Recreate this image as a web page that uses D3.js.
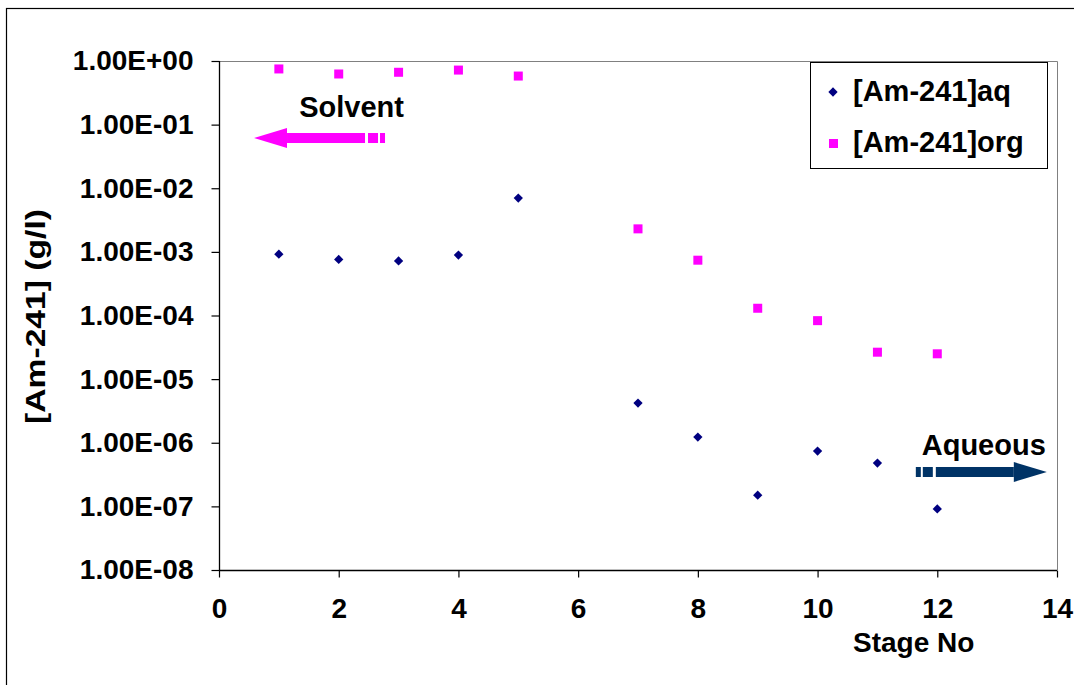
<!DOCTYPE html>
<html>
<head>
<meta charset="utf-8">
<script src="https://cdn.jsdelivr.net/npm/d3@7"></script>
<style>
  body { margin: 0; background: #fff; }
  text { font-family: "Liberation Sans", Arial, sans-serif; font-weight: bold; }
</style>
</head>
<body>
<div class="am-figure"></div>
<script>
// stage numbers and concentrations
let stages = [1, 2, 3, 4, 5, 7, 8, 9, 10, 11, 12];
let aqValues = [9.2e-4, 7.6e-4, 7.2e-4, 8.9e-4, 7.0e-3, 4.2e-6, 1.23e-6, 1.5e-7, 7.4e-7, 4.8e-7, 9.1e-8];
let orgValues = [0.75, 0.625, 0.665, 0.72, 0.58, 2.3e-3, 7.4e-4, 1.3e-4, 8.3e-5, 2.65e-5, 2.5e-5];

let xTicks = [0, 2, 4, 6, 8, 10, 12, 14];
let yTicks = [1, 1e-1, 1e-2, 1e-3, 1e-4, 1e-5, 1e-6, 1e-7, 1e-8];

let seriesNames = ["[Am-241]aq", "[Am-241]org"];
let seriesColors = ["#000080", "#FF00FF"];

let W = 1074, H = 685;
let plot = {left: 219, right: 1057, top: 61, bottom: 570};

let svg = d3.select(".am-figure")
    .append("svg")
    .attr("width", W)
    .attr("height", H);

// outer frame (runs off the right/bottom edge)
svg.append("rect")
    .attr("x", 6.5).attr("y", 8.5)
    .attr("width", W + 20).attr("height", H + 20)
    .attr("fill", "none").attr("stroke", "#000").attr("stroke-width", 1.2);

let x = d3.scaleLinear().domain([0, 14]).range([plot.left, plot.right]);
let y = d3.scaleLog().domain([1e-8, 1]).range([plot.bottom, plot.top]);

// gray border top/right
svg.append("path")
    .attr("d", "M" + plot.left + "," + (plot.top + 0.5) + "H" + (plot.right + 0.5) + "V" + plot.bottom)
    .attr("fill", "none").attr("stroke", "#808080").attr("stroke-width", 1);

function fmtSci(v) {
    let e = Math.round(Math.log10(v));
    let s = e < 0 ? "-" : "+";
    let a = Math.abs(e);
    return "1.00E" + s + (a < 10 ? "0" + a : a);
}

let yAxis = svg.append("g")
    .attr("transform", "translate(" + (plot.left + 0.5) + ",0)")
    .call(d3.axisLeft(y).tickValues(yTicks).tickFormat(fmtSci).tickSize(8).tickPadding(18));

let xAxis = svg.append("g")
    .attr("transform", "translate(0," + (plot.bottom + 0.5) + ")")
    .call(d3.axisBottom(x).tickValues(xTicks).tickFormat(d3.format("d")).tickSize(7).tickPadding(21));

[xAxis, yAxis].forEach(function(g) {
    g.select(".domain").attr("stroke", "#000").attr("stroke-width", 1.3);
    g.selectAll(".tick line").attr("stroke", "#000").attr("stroke-width", 1.2);
    g.selectAll(".tick text")
        .attr("fill", "#000")
        .style("font-size", "28px")
        .style("font-family", "'Liberation Sans', Arial, sans-serif")
        .style("font-weight", "bold");
});
yAxis.select(".domain").attr("d", "M0," + plot.bottom + "V" + plot.top);
xAxis.select(".domain").attr("d", "M" + plot.left + ",0H" + plot.right);

// axis titles
svg.append("text")
    .attr("transform", "translate(45," + ((plot.top + plot.bottom) / 2 + 1) + ") rotate(-90)")
    .attr("text-anchor", "middle")
    .style("font-size", "28px")
    .attr("textLength", 215)
    .attr("lengthAdjust", "spacingAndGlyphs")
    .text("[Am-241] (g/l)");

svg.append("text")
    .attr("x", 853).attr("y", 652)
    .style("font-size", "28px")
    .text("Stage No");

// data marks
let aqData = stages.map((s, i) => ({stage: s, value: aqValues[i]}));
let orgData = stages.map((s, i) => ({stage: s, value: orgValues[i]}));

let diamond = d3.symbol().type(d3.symbolDiamond2).size(55);

svg.append("g").selectAll("path")
    .data(aqData)
    .enter()
    .append("path")
    .attr("d", diamond)
    .attr("transform", d => "translate(" + x(d.stage) + "," + y(d.value) + ")")
    .attr("fill", seriesColors[0]);

svg.append("g").selectAll("rect")
    .data(orgData)
    .enter()
    .append("rect")
    .attr("x", d => x(d.stage) - 4.5)
    .attr("y", d => y(d.value) - 4.5)
    .attr("width", 9)
    .attr("height", 9)
    .attr("fill", seriesColors[1]);

// arrows with labels, anchored in data space
let arrows = [
    {label: "Solvent", tipX: 0.585, yVal: 0.0616, dir: -1, color: "#FF00FF", textX: 1.34, textY: 0.132},
    {label: "Aqueous", tipX: 13.83, yVal: 3.47e-7, dir: 1, color: "#003366", textX: 11.74, textY: 6.4e-7}
];

function drawArrow(a) {
    let tx = x(a.tipX), cy = y(a.yVal), d = a.dir;
    let g = svg.append("g").attr("fill", a.color);
    let headLen = 33, headHalf = 10, shaftHalf = 5;
    let baseX = tx - d * headLen;
    g.append("path")
        .attr("d", "M" + tx + "," + cy + "L" + baseX + "," + (cy - headHalf) + "L" + baseX + "," + (cy + headHalf) + "Z");
    // shaft then two short dashes
    let segs = [[0, 78], [81, 10], [93, 5]];
    segs.forEach(function(s) {
        let x0 = baseX - d * s[0], x1 = baseX - d * (s[0] + s[1]);
        g.append("rect")
            .attr("x", Math.min(x0, x1))
            .attr("y", cy - shaftHalf)
            .attr("width", Math.abs(x1 - x0))
            .attr("height", shaftHalf * 2);
    });
    svg.append("text")
        .attr("x", x(a.textX)).attr("y", y(a.textY))
        .style("font-size", "29px")
        .text(a.label);
}
arrows.forEach(drawArrow);

// legend
let legend = svg.append("g").attr("transform", "translate(810,62)");
legend.append("rect")
    .attr("x", 0.5).attr("y", 0.5)
    .attr("width", 237).attr("height", 106)
    .attr("fill", "#fff").attr("stroke", "#000").attr("stroke-width", 1);

legend.append("path")
    .attr("d", diamond)
    .attr("transform", "translate(23,30)")
    .attr("fill", seriesColors[0]);
legend.append("rect")
    .attr("x", 19).attr("y", 77).attr("width", 9).attr("height", 9)
    .attr("fill", seriesColors[1]);

legend.selectAll("text.lg")
    .data(seriesNames)
    .enter()
    .append("text")
    .attr("class", "lg")
    .attr("x", 43)
    .attr("y", (d, i) => 39 + i * 51)
    .style("font-size", "29px")
    .text(d => d);
</script>
</body>
</html>
